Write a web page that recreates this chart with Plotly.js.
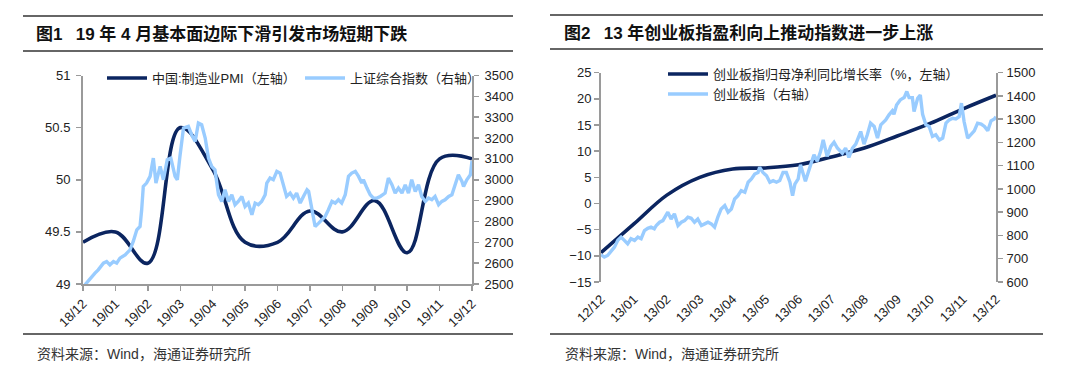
<!DOCTYPE html>
<html><head><meta charset="utf-8">
<script src="https://cdn.plot.ly/plotly-3.0.1.min.js"></script>
<style>html,body{margin:0;padding:0;background:#fff}#c{width:1080px;height:372px}</style>
</head><body><div id="c"></div>
<script>
// ---------- Chart 1 data ----------
const months1 = ['18/12','19/01','19/02','19/03','19/04','19/05','19/06','19/07','19/08','19/09','19/10','19/11','19/12'];
const pmi = [49.4,49.5,49.2,50.5,50.1,49.4,49.4,49.7,49.5,49.8,49.3,50.2,50.2];
// [months since end of 2018/12, index level]
const sse = [[0.06,2496],[0.22,2528],[0.37,2552],[0.47,2568],[0.63,2600],[0.73,2608],[0.83,2592],[0.94,2608],[1.04,2600],[1.14,2624],[1.30,2640],[1.45,2664],[1.55,2704],[1.66,2760],[1.76,2776],[1.81,2856],[1.86,2968],[1.96,2984],[2.07,3016],[2.17,3104],[2.25,2984],[2.38,3064],[2.48,3000],[2.60,3096],[2.71,3104],[2.84,3016],[2.91,3000],[2.99,3112],[3.10,3248],[3.25,3256],[3.35,3216],[3.46,3184],[3.56,3272],[3.66,3264],[3.77,3200],[3.87,3104],[3.97,3064],[4.07,3048],[4.18,2928],[4.28,2896],[4.38,2952],[4.49,2896],[4.59,2928],[4.69,2880],[4.79,2896],[4.90,2920],[5.00,2872],[5.10,2888],[5.21,2832],[5.31,2888],[5.41,2880],[5.51,2896],[5.62,2928],[5.67,2984],[5.77,3008],[5.87,3000],[5.98,3040],[6.08,3032],[6.18,2976],[6.28,2920],[6.39,2936],[6.49,2912],[6.59,2936],[6.70,2888],[6.80,2920],[6.91,2952],[6.96,2944],[7.06,2856],[7.16,2776],[7.27,2792],[7.37,2808],[7.47,2824],[7.57,2856],[7.68,2896],[7.78,2888],[7.88,2904],[7.98,2888],[8.09,2928],[8.19,3016],[8.29,3032],[8.40,3040],[8.50,3016],[8.60,2984],[8.65,3000],[8.76,2960],[8.86,2928],[8.96,2912],[9.07,2912],[9.17,2920],[9.32,2936],[9.42,3008],[9.53,2976],[9.63,2936],[9.73,2960],[9.84,2936],[9.94,2976],[10.04,2936],[10.14,3000],[10.25,2944],[10.35,2976],[10.45,2920],[10.56,2896],[10.66,2912],[10.76,2904],[10.86,2920],[10.97,2880],[11.07,2896],[11.17,2904],[11.28,2920],[11.38,2928],[11.48,2976],[11.58,3024],[11.69,2992],[11.74,2968],[11.84,3000],[11.95,3024],[12.0,3090]];

// ---------- Chart 2 data ----------
const months2 = ['12/12','13/01','13/02','13/03','13/04','13/05','13/06','13/07','13/08','13/09','13/10','13/11','13/12'];
const profitGrowth = [-9.4,-3.9,1.6,5.0,6.6,6.8,7.4,8.9,10.6,12.9,15.3,18.1,20.7];
const cyb = [[0,717],[0.10,707],[0.20,714],[0.30,729],[0.41,750],[0.51,779],[0.61,793],[0.71,779],[0.81,764],[0.91,786],[1.02,779],[1.12,793],[1.22,786],[1.32,821],[1.42,831],[1.52,836],[1.62,829],[1.68,843],[1.78,857],[1.88,864],[1.98,893],[2.03,900],[2.13,871],[2.23,893],[2.34,843],[2.44,857],[2.54,864],[2.64,879],[2.74,874],[2.84,857],[2.94,871],[3.05,843],[3.15,850],[3.25,857],[3.35,850],[3.45,836],[3.55,879],[3.65,914],[3.76,929],[3.86,900],[3.96,914],[4.06,957],[4.16,971],[4.26,993],[4.37,986],[4.47,1029],[4.57,1043],[4.67,1064],[4.77,1071],[4.82,1093],[4.92,1071],[5.03,1057],[5.13,1029],[5.23,1036],[5.33,1029],[5.43,1036],[5.53,1071],[5.63,1071],[5.74,1029],[5.82,971],[5.89,1021],[5.99,1043],[6.06,1104],[6.21,1033],[6.37,1104],[6.47,1147],[6.57,1119],[6.67,1161],[6.75,1211],[6.87,1140],[6.98,1183],[7.08,1201],[7.18,1176],[7.33,1154],[7.43,1176],[7.53,1136],[7.64,1176],[7.74,1193],[7.89,1247],[7.99,1193],[8.09,1233],[8.19,1283],[8.30,1269],[8.40,1219],[8.50,1276],[8.65,1297],[8.75,1319],[8.85,1336],[8.90,1321],[8.98,1361],[9.09,1383],[9.21,1393],[9.29,1419],[9.36,1393],[9.46,1393],[9.51,1333],[9.62,1390],[9.70,1404],[9.77,1321],[9.87,1276],[9.97,1269],[10.07,1226],[10.17,1233],[10.28,1211],[10.38,1219],[10.48,1283],[10.58,1297],[10.68,1304],[10.78,1301],[10.88,1311],[10.95,1369],[11.03,1290],[11.14,1219],[11.24,1233],[11.34,1250],[11.44,1283],[11.55,1279],[11.65,1269],[11.75,1250],[11.85,1293],[11.95,1301],[12.0,1311]];

const titles = ['图1\u2002 19 年 4 月基本面边际下滑引发市场短期下跌', '图2\u2002 13 年创业板指盈利向上推动指数进一步上涨'];
const sourceText = '资料来源：Wind，海通证券研究所';
const legendNames = ['中国:制造业PMI（左轴）','上证综合指数（右轴）','创业板指归母净利同比增长率（%，左轴）','创业板指（右轴）'];

// ---------- styling ----------
const DARK = '#0b2560', LIGHT = '#99ccff', AX = '#9a9a9a';
const FONT = 'Liberation Sans, Arial, Noto Sans CJK SC, sans-serif';
const W = 1080, H = 372;
const px = v => v / W, py = v => (H - v) / H;
const idx1 = months1.map((_, i) => i);
const idx2 = months2.map((_, i) => i);

const traces = [
  {x: idx1, y: pmi, xaxis: 'x', yaxis: 'y', mode: 'lines', name: legendNames[0], legend: 'legend',
   line: {color: DARK, width: 3.6, shape: 'spline', smoothing: 1.1}},
  {x: sse.map(p => p[0]), y: sse.map(p => p[1]), xaxis: 'x', yaxis: 'y2', mode: 'lines', name: legendNames[1], legend: 'legend2',
   line: {color: LIGHT, width: 3.4}},
  {x: idx2, y: profitGrowth, xaxis: 'x2', yaxis: 'y3', mode: 'lines', name: legendNames[2], legend: 'legend3',
   line: {color: DARK, width: 3.6, shape: 'spline', smoothing: 1}},
  {x: cyb.map(p => p[0]), y: cyb.map(p => p[1]), xaxis: 'x2', yaxis: 'y4', mode: 'lines', name: legendNames[3], legend: 'legend4',
   line: {color: LIGHT, width: 3.4}}
];

const axBase = {showgrid: false, zeroline: false, showline: true, linecolor: AX, linewidth: 2,
  ticks: 'outside', ticklen: 5, tickwidth: 1.5, tickcolor: AX, tickfont: {family: FONT, size: 13, color: '#222'}, fixedrange: true};

const y1dom = [py(284), py(75.5)];
const y3dom = [py(282), py(72.7)];
const zeroPos = y3dom[0] + (0 - (-15)) / (25 - (-15)) * (y3dom[1] - y3dom[0]);

const legBase = {orientation: 'v', xanchor: 'left', yanchor: 'top', bgcolor: 'rgba(0,0,0,0)', borderwidth: 0,
  font: {family: FONT, size: 13, color: '#222'}, itemwidth: 40, tracegroupgap: 0};

const layout = {
  width: W, height: H, margin: {l: 0, r: 0, t: 0, b: 0}, paper_bgcolor: '#fff', plot_bgcolor: '#fff',
  showlegend: true,
  xaxis: Object.assign({}, axBase, {domain: [px(83), px(472)], range: [0, 12], tickvals: idx1, ticktext: months1, tickangle: -45, anchor: 'y'}),
  yaxis: Object.assign({}, axBase, {domain: y1dom, range: [49, 51], tick0: 49, dtick: 0.5, anchor: 'x', ticklabelstandoff: 3}),
  yaxis2: Object.assign({}, axBase, {overlaying: 'y', side: 'right', range: [2500, 3500], tick0: 2500, dtick: 100, anchor: 'x', ticklabelstandoff: 3}),
  xaxis2: Object.assign({}, axBase, {domain: [px(601), px(996)], range: [0, 12], tickvals: idx2, ticktext: months2, tickangle: -45,
    anchor: 'y3', showline: false, ticks: '', ticklabelstandoff: 6}),
  xaxis3: Object.assign({}, axBase, {domain: [px(601), px(996)], range: [0, 12], tickvals: idx2, showticklabels: false,
    overlaying: 'x2', anchor: 'free', position: zeroPos}),
  yaxis3: Object.assign({}, axBase, {domain: y3dom, range: [-15, 25], tick0: -15, dtick: 5, anchor: 'x2'}),
  yaxis4: Object.assign({}, axBase, {overlaying: 'y3', side: 'right', range: [600, 1500], tick0: 600, dtick: 100, anchor: 'x2', ticklabelstandoff: 1}),
  legend: Object.assign({}, legBase, {x: px(102), y: py(63)}),
  legend2: Object.assign({}, legBase, {x: px(300), y: py(63)}),
  legend3: Object.assign({}, legBase, {x: px(663), y: py(59)}),
  legend4: Object.assign({}, legBase, {x: px(663), y: py(79)}),
  annotations: [
    {text: '<b>' + titles[0] + '</b>', xref: 'paper', yref: 'paper', x: px(34), y: py(34), xanchor: 'left', yanchor: 'middle', showarrow: false,
     font: {family: FONT, size: 17, color: '#111'}},
    {text: '<b>' + titles[1] + '</b>', xref: 'paper', yref: 'paper', x: px(562), y: py(33), xanchor: 'left', yanchor: 'middle', showarrow: false,
     font: {family: FONT, size: 17, color: '#111'}},
    {text: sourceText, xref: 'paper', yref: 'paper', x: px(35), y: py(354), xanchor: 'left', yanchor: 'middle', showarrow: false,
     font: {family: FONT, size: 14, color: '#333'}},
    {text: sourceText, xref: 'paper', yref: 'paper', x: px(563), y: py(354), xanchor: 'left', yanchor: 'middle', showarrow: false,
     font: {family: FONT, size: 14, color: '#333'}}
  ],
  shapes: [
    [23, 513, 16], [23, 513, 51], [23, 513, 334],
    [550, 1043, 15], [550, 1043, 49], [550, 1043, 334]
  ].map(r => ({type: 'line', xref: 'paper', yref: 'paper', x0: px(r[0]), x1: px(r[1]), y0: py(r[2]), y1: py(r[2]),
     line: {color: '#333', width: 1.6}}))
};

Plotly.newPlot('c', traces, layout, {staticPlot: true, displayModeBar: false});
</script>
</body></html>
